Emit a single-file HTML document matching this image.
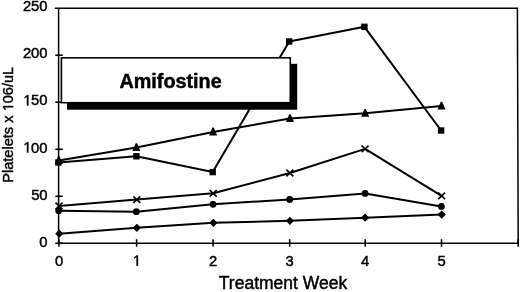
<!DOCTYPE html>
<html><head><meta charset="utf-8"><title>Platelets chart</title>
<style>
html,body{margin:0;padding:0;background:#fff;width:520px;height:292px;overflow:hidden;}
body{font-family:"Liberation Sans",sans-serif;}
svg{display:block;will-change:transform;}
</style></head><body>
<svg width="520" height="292" viewBox="0 0 520 292"><path d="M54.8 8.2H517.4L518.2 243.3" fill="none" stroke="#000" stroke-width="1.5"/>
<path d="M58.6 8.2V244.1" stroke="#000" stroke-width="1.5"/>
<path d="M57.7 243.3H518.9" stroke="#000" stroke-width="1.6"/>
<path d="M55.3 243.3H62.7" stroke="#000" stroke-width="1.6"/>
<path d="M55.3 196.3H62.7" stroke="#000" stroke-width="1.6"/>
<path d="M55.3 149.3H62.7" stroke="#000" stroke-width="1.6"/>
<path d="M55.3 102.2H62.7" stroke="#000" stroke-width="1.6"/>
<path d="M55.3 55.2H62.7" stroke="#000" stroke-width="1.6"/>
<path d="M59.0 239.2V246.8" stroke="#000" stroke-width="1.5"/>
<path d="M136.6 239.2V246.8" stroke="#000" stroke-width="1.5"/>
<path d="M213.1 239.2V246.8" stroke="#000" stroke-width="1.5"/>
<path d="M289.7 239.2V246.8" stroke="#000" stroke-width="1.5"/>
<path d="M365.2 239.2V246.8" stroke="#000" stroke-width="1.5"/>
<path d="M441.5 239.2V246.8" stroke="#000" stroke-width="1.5"/>
<path d="M518.2 239.2V246.8" stroke="#000" stroke-width="1.5"/>
<polyline points="58.8,160.6 136.4,147.5 213.1,131.9 289.9,118.5 365.2,113.2 441.5,106.1" fill="none" stroke="#000" stroke-width="2.0" stroke-linejoin="round"/>
<polyline points="58.4,162.5 136.4,156.3 212.7,172.1 289.2,41.5 364.4,26.8 441.1,130.5" fill="none" stroke="#000" stroke-width="2.0" stroke-linejoin="round"/>
<polyline points="59.0,206.0 136.8,199.6 213.2,193.3 289.9,173.0 365.1,148.9 441.6,195.9" fill="none" stroke="#000" stroke-width="2.0" stroke-linejoin="round"/>
<polyline points="58.7,210.7 136.3,211.7 213.0,204.3 289.7,199.4 365.1,193.4 441.4,206.4" fill="none" stroke="#000" stroke-width="2.0" stroke-linejoin="round"/>
<polyline points="59.3,233.7 136.8,227.8 213.4,222.8 289.9,220.8 365.1,217.7 441.7,214.6" fill="none" stroke="#000" stroke-width="2.0" stroke-linejoin="round"/>
<g fill="#000"><path d="M58.1 156.3H59.5L62.8 164.1H54.8Z"/><path d="M135.7 143.2H137.1L140.4 151.0H132.4Z"/><path d="M212.4 127.6H213.8L217.1 135.4H209.1Z"/><path d="M289.2 114.2H290.6L293.9 122.0H285.9Z"/><path d="M364.5 108.9H365.9L369.2 116.7H361.2Z"/><path d="M440.8 101.8H442.2L445.5 109.6H437.5Z"/><rect x="55.2" y="159.3" width="6.4" height="6.4"/><rect x="133.2" y="153.1" width="6.4" height="6.4"/><rect x="209.5" y="168.9" width="6.4" height="6.4"/><rect x="286.0" y="38.3" width="6.4" height="6.4"/><rect x="361.2" y="23.6" width="6.4" height="6.4"/><rect x="437.9" y="127.3" width="6.4" height="6.4"/><path d="M55.5 202.7L62.5 209.3M62.5 202.7L55.5 209.3" stroke="#000" stroke-width="1.7" fill="none"/><path d="M133.3 196.3L140.3 202.9M140.3 196.3L133.3 202.9" stroke="#000" stroke-width="1.7" fill="none"/><path d="M209.7 190.0L216.7 196.6M216.7 190.0L209.7 196.6" stroke="#000" stroke-width="1.7" fill="none"/><path d="M286.4 169.7L293.4 176.3M293.4 169.7L286.4 176.3" stroke="#000" stroke-width="1.7" fill="none"/><path d="M361.6 145.6L368.6 152.2M368.6 145.6L361.6 152.2" stroke="#000" stroke-width="1.7" fill="none"/><path d="M438.1 192.6L445.1 199.2M445.1 192.6L438.1 199.2" stroke="#000" stroke-width="1.7" fill="none"/><circle cx="58.7" cy="210.7" r="3.4"/><circle cx="136.3" cy="211.7" r="3.4"/><circle cx="213.0" cy="204.3" r="3.4"/><circle cx="289.7" cy="199.4" r="3.4"/><circle cx="365.1" cy="193.4" r="3.4"/><circle cx="441.4" cy="206.4" r="3.4"/><path d="M59.3 229.6L63.4 233.7L59.3 237.8L55.2 233.7Z"/><path d="M136.8 223.7L140.9 227.8L136.8 231.9L132.7 227.8Z"/><path d="M213.4 218.7L217.5 222.8L213.4 226.9L209.3 222.8Z"/><path d="M289.9 216.7L294.0 220.8L289.9 224.9L285.8 220.8Z"/><path d="M365.1 213.6L369.2 217.7L365.1 221.8L361.0 217.7Z"/><path d="M441.7 210.5L445.8 214.6L441.7 218.7L437.6 214.6Z"/></g>
<rect x="67" y="63.8" width="230.2" height="45.9" fill="#000"/>
<rect x="61.4" y="57.8" width="228.9" height="44.9" fill="#fff" stroke="#000" stroke-width="1.6"/>
<g font-family="Liberation Sans, sans-serif" fill="#000" stroke="#000" stroke-width="0.45"><text x="47.6" y="246.5" text-anchor="end" font-size="14.8">0</text><text x="47.6" y="199.5" text-anchor="end" font-size="14.8">50</text><text x="47.6" y="152.5" text-anchor="end" font-size="14.8"> 00</text><text x="47.6" y="105.4" text-anchor="end" font-size="14.8"> 50</text><text x="47.6" y="58.4" text-anchor="end" font-size="14.8">200</text><text x="47.6" y="11.4" text-anchor="end" font-size="14.8">250</text><text x="59.0" y="265.7" text-anchor="middle" font-size="14.8">0</text><text x="136.6" y="265.7" text-anchor="middle" font-size="14.8"> </text><text x="213.1" y="265.7" text-anchor="middle" font-size="14.8">2</text><text x="289.7" y="265.7" text-anchor="middle" font-size="14.8">3</text><text x="365.2" y="265.7" text-anchor="middle" font-size="14.8">4</text><text x="441.5" y="265.7" text-anchor="middle" font-size="14.8">5</text><text x="283" y="289.1" text-anchor="middle" font-size="17.5">Treatment Week</text><text transform="translate(13.2,124.8) rotate(-90)" text-anchor="middle" font-size="14.6">Platelets x  06/uL</text><text x="170.6" y="87.5" text-anchor="middle" font-size="19.8" font-weight="bold">Amifostine</text><path transform="translate(23.30,152.46) scale(0.00723,-0.00723)" d="M515 0V1237L197 1010V1180L530 1409H696V0Z" vector-effect="non-scaling-stroke"/><path transform="translate(23.30,105.44) scale(0.00723,-0.00723)" d="M515 0V1237L197 1010V1180L530 1409H696V0Z" vector-effect="non-scaling-stroke"/><path transform="translate(132.88,265.70) scale(0.00723,-0.00723)" d="M515 0V1237L197 1010V1180L530 1409H696V0Z" vector-effect="non-scaling-stroke"/><path transform="translate(13.2,124.8) rotate(-90) translate(13.76,0.00) scale(0.00713,-0.00713)" d="M515 0V1237L197 1010V1180L530 1409H696V0Z" vector-effect="non-scaling-stroke"/></g></svg>
</body></html>
